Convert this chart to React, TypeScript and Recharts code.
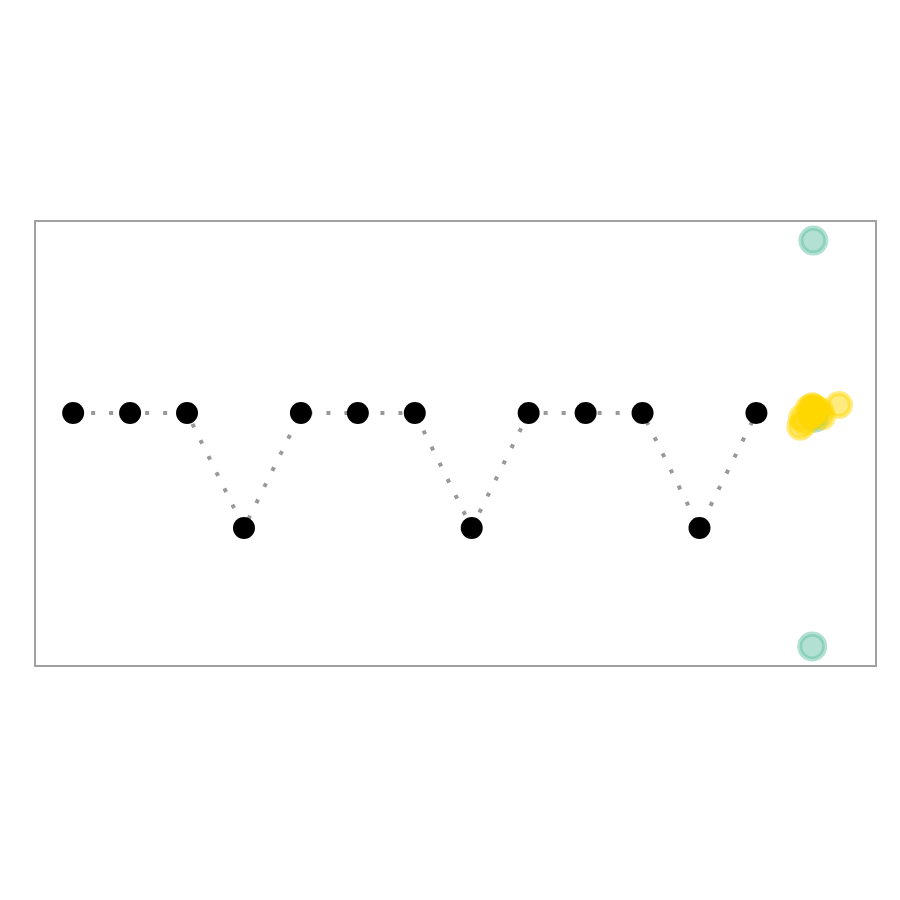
import React from 'react';
import { ScatterChart, Scatter, XAxis, YAxis, ReferenceArea } from 'recharts';

// main sequence (positions 1..13)
const stepX = [1, 2, 3, 4, 5, 6, 7, 8, 9, 10, 11, 12, 13];
const stepY = [1, 1, 1, 0, 1, 1, 1, 0, 1, 1, 1, 0, 1];

// teal points at position 14
const tealX = [14.0, 13.98, 14.0, 14.02];
const tealY = [2.5, -1.03, 1.0, 0.96];

// yellow cluster at position 14
const goldX = [14.0, 14.12, 13.95, 13.8, 13.77, 14.05, 14.45, 13.85, 14.15, 13.92, 14.0, 13.98];
const goldY = [1.05, 1.02, 0.98, 0.96, 0.88, 1.03, 1.07, 0.92, 0.97, 1.04, 1.0, 1.06];

const X_DOMAIN = [0.33, 15.1];
const Y_DOMAIN = [-1.2, 2.67];

const steps = stepX.map((x, i) => ({ x, y: stepY[i] }));
const teal = tealX.map((x, i) => ({ x, y: tealY[i] }));
const gold = goldX.map((x, i) => ({ x, y: goldY[i] }));

const dot = (color: string, r: number, alpha: boolean) => (props: any) => {
    const { cx, cy } = props;
    if (cx == null || cy == null) return <g />;
    return alpha ? (
        <circle cx={cx} cy={cy} r={r} fill={color} fillOpacity={0.5}
            stroke={color} strokeOpacity={0.5} strokeWidth={5} />
    ) : (
        <circle cx={cx} cy={cy} r={r} fill={color} />
    );
};

export default function App() {
    return (
        <div style={{ position: 'absolute', left: 0, top: 0, width: 900, height: 900, background: '#fff' }}>
            <ScatterChart width={900} height={900} margin={{ top: 221, right: 24, bottom: 234, left: 35 }}>
                <XAxis type="number" dataKey="x" domain={X_DOMAIN} hide allowDataOverflow />
                <YAxis type="number" dataKey="y" domain={Y_DOMAIN} hide allowDataOverflow />
                <ReferenceArea x1={X_DOMAIN[0]} x2={X_DOMAIN[1]} y1={Y_DOMAIN[0]} y2={Y_DOMAIN[1]}
                    fill="none" stroke="#a0a0a0" strokeWidth={2} fillOpacity={0} />
                <Scatter data={steps} isAnimationActive={false}
                    line={{ stroke: '#999999', strokeWidth: 4, strokeDasharray: '4 14' }}
                    shape={dot('#000000', 11, false)} />
                <Scatter data={teal} isAnimationActive={false} shape={dot('#66c2a5', 12.5, true)} />
                <Scatter data={gold} isAnimationActive={false} shape={dot('#ffd700', 11.5, true)} />
            </ScatterChart>
        </div>
    );
}
